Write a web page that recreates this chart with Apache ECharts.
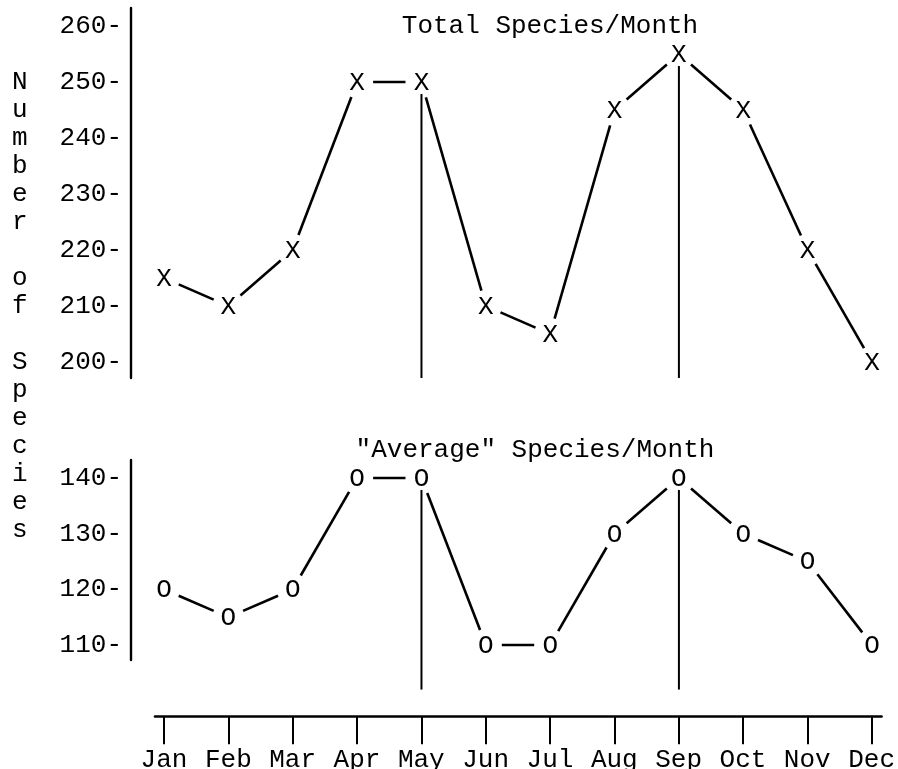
<!DOCTYPE html>
<html>
<head>
<meta charset="utf-8">
<script src="https://cdn.jsdelivr.net/npm/echarts@6/dist/echarts.min.js"></script>
<style>
html, body { margin: 0; padding: 0; background: #fff; }
#chart { width: 898px; height: 769px; }
</style>
</head>
<body>
<div id="chart"></div>
<script>
// data
var months = ['Jan', 'Feb', 'Mar', 'Apr', 'May', 'Jun', 'Jul', 'Aug', 'Sep', 'Oct', 'Nov', 'Dec'];
var totalSpecies = [215, 210, 220, 250, 250, 210, 205, 245, 255, 245, 220, 200];
var avgSpecies = [120, 115, 120, 140, 140, 110, 110, 130, 140, 130, 125, 110];
var totalTicks = [200, 210, 220, 230, 240, 250, 260];
var avgTicks = [110, 120, 130, 140];
var monthTicks = [0, 1, 2, 3, 4, 5, 6, 7, 8, 9, 10, 11];
var dropMonths = [4, 8];          // May, Sep get a vertical line
var dropFloor = [197.14, 102];    // where those lines stop, per panel

var ink = '#000';
var font = 'Liberation Mono';
var txt = { fontFamily: font, fontSize: 26, color: ink, fontWeight: 'normal' };

function segData(vals) {
    var out = [];
    for (var i = 0; i < vals.length - 1; i++) out.push([i, vals[i], i + 1, vals[i + 1]]);
    return out;
}
function pointData(vals) {
    return vals.map(function (v, i) { return [i, v]; });
}
function dropData(vals, floor) {
    return dropMonths.map(function (m) { return [m, vals[m], floor]; });
}

// line pieces stop short of the markers
function renderSeg(params, api) {
    var a = api.coord([api.value(0), api.value(1)]);
    var b = api.coord([api.value(2), api.value(3)]);
    var dx = b[0] - a[0], dy = b[1] - a[1];
    var len = Math.sqrt(dx * dx + dy * dy), g = 16;
    return {
        type: 'line',
        shape: { x1: a[0] + dx / len * g, y1: a[1] + dy / len * g, x2: b[0] - dx / len * g, y2: b[1] - dy / len * g },
        style: { stroke: ink, lineWidth: 2.6 }
    };
}
function markRenderer(ch) {
    return function (params, api) {
        var p = api.coord([api.value(0), api.value(1)]);
        return {
            type: 'text', x: p[0], y: p[1] + 1,
            style: { text: ch, font: '26px "Liberation Mono"', fill: ink, align: 'center', verticalAlign: 'middle' }
        };
    };
}
function renderDrop(params, api) {
    var a = api.coord([api.value(0), api.value(1)]);
    var b = api.coord([api.value(0), api.value(2)]);
    return {
        type: 'line',
        shape: { x1: a[0], y1: a[1] + 12, x2: b[0], y2: b[1] },
        style: { stroke: ink, lineWidth: 2 }
    };
}

function yAxisOf(idx, min, max, ticks) {
    return {
        gridIndex: idx, type: 'value', min: min, max: max,
        axisLine: { show: true, onZero: false, lineStyle: { color: ink, width: 2.4 } },
        axisTick: { show: false },
        splitLine: { show: false },
        axisLabel: Object.assign({ customValues: ticks, margin: 9, formatter: function (v) { return v + '-'; } }, txt)
    };
}

var myChart = echarts.init(document.getElementById('chart'));

var option = {
    animation: false,
    backgroundColor: '#fff',
    title: [
        { text: 'Total Species/Month', left: 545, top: 8, textAlign: 'center', textStyle: txt },
        { text: '"Average" Species/Month', left: 530, top: 432, textAlign: 'center', textStyle: txt },
        {
            text: 'N\nu\nm\nb\ne\nr\n \no\nf\n \nS\np\ne\nc\ni\ne\ns', left: 7, top: 63,
            textStyle: Object.assign({ lineHeight: 28 }, txt)
        }
    ],
    grid: [
        { left: 131, right: 26, top: 8, height: 370 },
        { left: 131, right: 26, top: 460, height: 200 },
        { left: 155, right: 16, top: 716, height: 1 }
    ],
    xAxis: [
        { gridIndex: 0, type: 'value', min: -0.513, max: 11, show: false },
        { gridIndex: 1, type: 'value', min: -0.513, max: 11, show: false },
        {
            gridIndex: 2, type: 'value', min: -0.14, max: 11.155, position: 'bottom',
            axisLine: { onZero: false, lineStyle: { color: ink, width: 2.6 } },
            axisTick: { customValues: monthTicks, length: 28, lineStyle: { color: ink, width: 2 } },
            splitLine: { show: false },
            axisLabel: Object.assign({ customValues: monthTicks, margin: 31, formatter: function (v) { return months[v]; } }, txt)
        }
    ],
    yAxis: [
        yAxisOf(0, 197.14, 263.21, totalTicks),
        yAxisOf(1, 107.31, 143.23, avgTicks),
        { gridIndex: 2, type: 'value', min: 0, max: 1, show: false }
    ],
    series: [
        { type: 'custom', xAxisIndex: 0, yAxisIndex: 0, renderItem: renderSeg, data: segData(totalSpecies) },
        { type: 'custom', xAxisIndex: 0, yAxisIndex: 0, renderItem: renderDrop, data: dropData(totalSpecies, dropFloor[0]) },
        { type: 'custom', xAxisIndex: 0, yAxisIndex: 0, renderItem: markRenderer('X'), data: pointData(totalSpecies) },
        { type: 'custom', xAxisIndex: 1, yAxisIndex: 1, renderItem: renderSeg, data: segData(avgSpecies) },
        { type: 'custom', xAxisIndex: 1, yAxisIndex: 1, renderItem: renderDrop, data: dropData(avgSpecies, dropFloor[1]) },
        { type: 'custom', xAxisIndex: 1, yAxisIndex: 1, renderItem: markRenderer('O'), data: pointData(avgSpecies) }
    ]
};
myChart.setOption(option);
</script>
</body>
</html>
